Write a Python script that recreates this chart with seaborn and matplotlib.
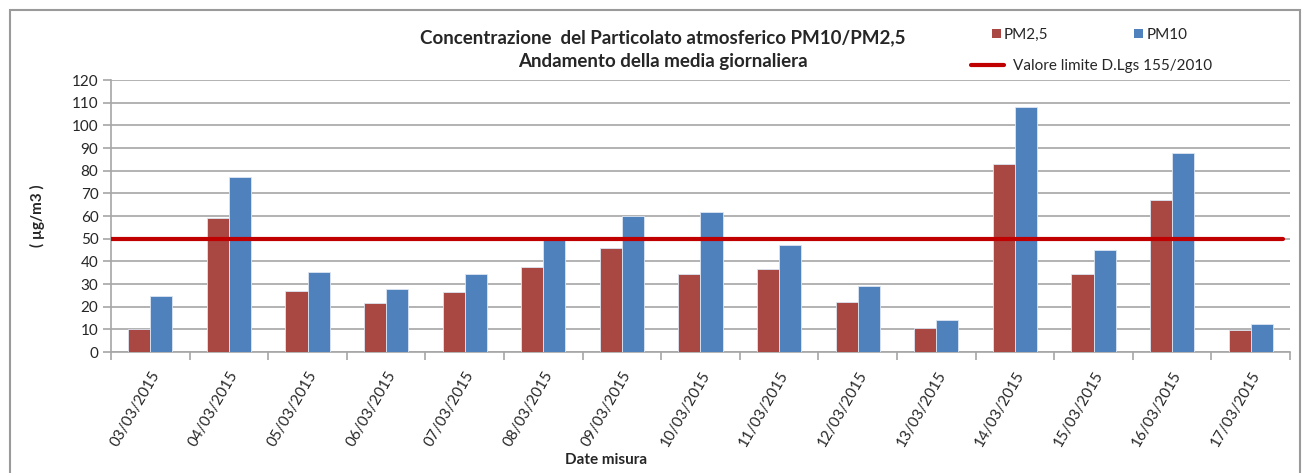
import numpy as np
import pandas as pd
import matplotlib.pyplot as plt
import seaborn as sns
from matplotlib.patches import Patch, Rectangle
from matplotlib.lines import Line2D

# daily means
dates = ['03/03/2015', '04/03/2015', '05/03/2015', '06/03/2015', '07/03/2015',
         '08/03/2015', '09/03/2015', '10/03/2015', '11/03/2015', '12/03/2015',
         '13/03/2015', '14/03/2015', '15/03/2015', '16/03/2015', '17/03/2015']
pm25 = [10.0, 58.9, 27.0, 21.5, 26.4, 37.6, 45.9, 34.5, 36.4, 22.1, 10.7, 82.8, 34.6, 67.1, 9.7]
pm10 = [24.6, 77.1, 35.3, 27.9, 34.5, 50.0, 59.9, 61.6, 47.1, 28.9, 14.0, 107.9, 45.1, 87.8, 12.5]
series = ['PM2,5', 'PM10']
limite = 50
yticks = list(range(0, 121, 10))

colors = {'PM2,5': '#a94743', 'PM10': '#4f81bd'}
red = '#c00000'

df = pd.DataFrame({'data': dates * 2,
                   'valore': pm25 + pm10,
                   'serie': [series[0]] * len(dates) + [series[1]] * len(dates)})

sns.set_style('white')
plt.rcParams['font.family'] = ['Lato', 'DejaVu Sans']

fig = plt.figure(figsize=(13.09, 4.73), dpi=100)
ax = fig.add_axes([111 / 1309, 1 - 352 / 473, (1290 - 111) / 1309, (352 - 80) / 473])

sns.barplot(data=df, x='data', y='valore', hue='serie', palette=colors, saturation=1,
            width=0.56, edgecolor='#dce6f2', linewidth=0.6, ax=ax, legend=False, zorder=3)

ax.axhline(limite, color=red, lw=3, zorder=4, xmax=0.994)

ax.set_ylim(0, 120)
ax.set_xlim(-0.5, len(dates) - 0.5)
ax.set_yticks(yticks)
ax.yaxis.grid(True, color='#a6a6a6', lw=1.2)
ax.set_axisbelow(True)
for s in ['top', 'right']:
    ax.spines[s].set_visible(False)
for s in ['left', 'bottom']:
    ax.spines[s].set_color('#a6a6a6')
    ax.spines[s].set_linewidth(1.2)

# ticks between categories like the spreadsheet chart
ax.set_xticks(np.arange(len(dates)))
ax.set_xticklabels(dates, rotation=60, ha='right', rotation_mode='anchor', fontsize=11)
ax.set_xticks(np.arange(-0.5, len(dates)), minor=True)
ax.tick_params(axis='x', which='major', length=0, pad=12)
ax.tick_params(axis='x', which='minor', length=6, color='#a6a6a6', width=1.2, bottom=True)
ax.tick_params(axis='y', length=6, color='#a6a6a6', width=1.2, left=True, labelsize=11, pad=3)

ax.set_xlabel('Date misura', fontsize=11, fontweight='bold', labelpad=0)
ax.xaxis.set_label_coords((606 - 111) / (1290 - 111), -0.37)
ax.set_ylabel('( µg/m3 )', fontsize=11, fontweight='bold')
ax.yaxis.set_label_coords(-0.056, 0.5)

fig.text(663 / 1309, 1 - 38 / 473, 'Concentrazione  del Particolato atmosferico PM10/PM2,5',
         ha='center', va='center', fontsize=13.5, fontweight='bold')
fig.text(663 / 1309, 1 - 62 / 473, 'Andamento della media giornaliera',
         ha='center', va='center', fontsize=13.5, fontweight='bold')

handles = [Patch(facecolor=colors[s], edgecolor='none') for s in series]
leg1 = fig.legend(handles, series, ncol=2, loc='center left',
                  bbox_to_anchor=(984 / 1309, 1 - 35 / 473), frameon=False,
                  fontsize=11, handlelength=0.6, handleheight=0.6,
                  handletextpad=0.2, columnspacing=5.6, borderpad=0)
leg2 = fig.legend([Line2D([0], [0], color=red, lw=3)], ['Valore limite D.Lgs 155/2010'],
                  loc='center left', bbox_to_anchor=(963 / 1309, 1 - 66 / 473),
                  frameon=False, fontsize=11, handlelength=2.2, handletextpad=0.6,
                  borderpad=0)

# chart frame
fig.add_artist(Rectangle((10 / 1309, -0.1), (1300 - 10) / 1309, 1.1 - 10 / 473,
                         transform=fig.transFigure, fill=False,
                         edgecolor='#9a9a9a', lw=1.5))

fig.savefig('out.png', dpi=100)
